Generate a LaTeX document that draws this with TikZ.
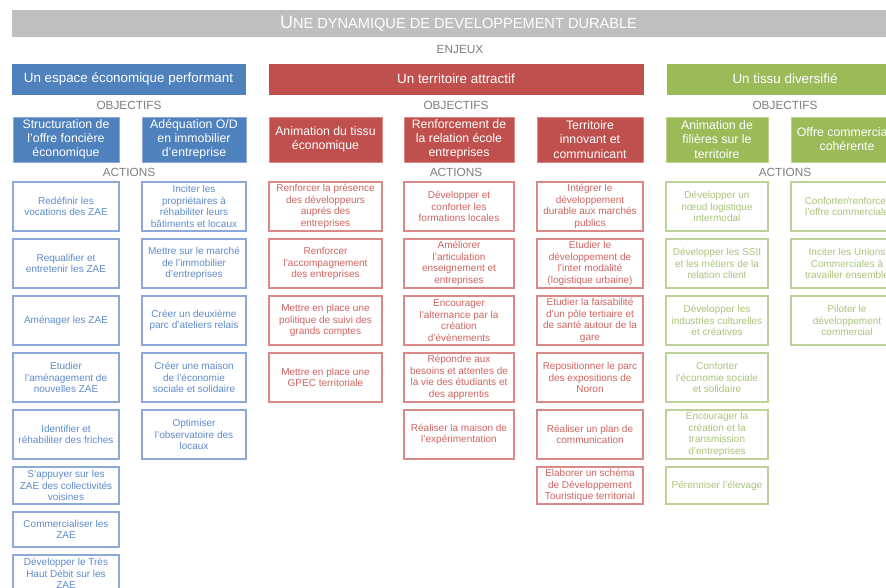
\documentclass[tikz,border=0pt]{standalone}
\usepackage{fontspec}
\setmainfont{Liberation Sans}
\definecolor{titlegray}{HTML}{BFBFBF}
\definecolor{labelgray}{HTML}{7F7F7F}
\definecolor{bluefill}{HTML}{4F81BD}
\definecolor{redfill}{HTML}{C0504D}
\definecolor{greenfill}{HTML}{9BBB59}
\definecolor{blueline}{HTML}{8EA9D8}
\definecolor{redline}{HTML}{D98A88}
\definecolor{greenline}{HTML}{BDD29A}
\definecolor{bluetext}{HTML}{5F8BCB}
\definecolor{redtext}{HTML}{CF6461}
\definecolor{greentext}{HTML}{A9C47A}
\begin{document}
\begin{tikzpicture}[x=1pt,y=-1pt,
  titlebar/.style={fill=titlegray, minimum width=893pt, minimum height=27pt, inner sep=0pt, text=white},
  lbl/.style={text=labelgray, inner sep=0pt, font=\fontsize{11.8}{12}\selectfont},
  enjeubox/.style 2 args={fill=#1fill, draw=#1fill, text=white, minimum width=#2, minimum height=30pt, inner sep=0pt, font=\fontsize{13.4}{14}\selectfont},
  objbox/.style 2 args={fill=#1fill, draw=#1line, line width=0.8pt, text=white, align=center, minimum width=#2, minimum height=45pt, inner sep=0pt, font=\fontsize{12.3}{14.2}\selectfont},
  actbox/.style 2 args={fill=white, draw=#1line, line width=1.3pt, text=#1text, align=center, minimum width=#2, minimum height=49pt, inner sep=0pt, font=\fontsize{10}{11.5}\selectfont},
  short/.style={minimum height=37pt}]
\useasboundingbox (0,0) rectangle (886,588);
\clip (0,0) rectangle (886,588);
\fill[white] (0,0) rectangle (886,588);
% title and enjeux
\node[titlebar] (title) at (458.5,23.5) {{\fontsize{18}{18}\selectfont U}\fontsize{14.6}{18}\selectfont NE DYNAMIQUE DE DEVELOPPEMENT DURABLE};
\node[lbl] (enjeux) at (460,50) {ENJEUX};
\node[enjeubox={blue}{233pt}] (eb) at (128.5,79) {Un espace économique performant};
\node[enjeubox={red}{374pt}] (er) at (456,79) {Un territoire attractif};
\node[enjeubox={green}{236pt}] (eg) at (785,79) {Un tissu diversifié};
\node[lbl] (ob) at (129,105) {OBJECTIFS};
\node[lbl] (or) at (456,105) {OBJECTIFS};
\node[lbl] (og) at (785,105) {OBJECTIFS};
% objectifs
\node[objbox={blue}{106pt}] (b1) at (66,139.5) {Structuration de\\l’offre foncière\\économique};
\node[objbox={blue}{104pt}] (b2) at (194,139.5) {Adéquation O/D\\en immobilier\\d’entreprise};
\node[objbox={red}{113pt}] (r1) at (325.5,139.5) {Animation du tissu\\économique};
\node[objbox={red}{110pt}] (r2) at (459,139.5) {Renforcement de\\la relation école\\entreprises};
\node[objbox={red}{106pt}] (r3) at (590,139.5) {Territoire\\innovant et\\communicant};
\node[objbox={green}{102pt}] (g1) at (717,139.5) {Animation de\\filières sur le\\territoire};
\node[objbox={green}{112pt}] (g2) at (847,139.5) {Offre commerciale\\cohérente};
\node[lbl] (ab) at (129,172) {ACTIONS};
\node[lbl] (ar) at (456,172) {ACTIONS};
\node[lbl] (ag) at (785,172) {ACTIONS};
% actions, blue
\node[actbox={blue}{106pt}] (b11) at (66,206.5) {Redéfinir les\\vocations des ZAE};
\node[actbox={blue}{106pt}] (b12) at (66,263.5) {Requalifier et\\entretenir les ZAE};
\node[actbox={blue}{106pt}] (b13) at (66,320.5) {Aménager les ZAE};
\node[actbox={blue}{106pt}] (b14) at (66,377.5) {Etudier\\l’aménagement de\\nouvelles ZAE};
\node[actbox={blue}{106pt}] (b15) at (66,434.5) {Identifier et\\réhabiliter des friches};
\node[actbox={blue}{106pt}, short] (b16) at (66,485.5) {S’appuyer sur les\\ZAE des collectivités\\voisines};
\node[actbox={blue}{106pt}, minimum height=35pt] (b17) at (66,529.5) {Commercialiser les\\ZAE};
\node[actbox={blue}{106pt}, short] (b18) at (66,573.5) {Développer le Très\\Haut Débit sur les\\ZAE};
\node[actbox={blue}{104pt}] (b21) at (194,206.5) {Inciter les\\propriétaires à\\réhabiliter leurs\\bâtiments et locaux};
\node[actbox={blue}{104pt}] (b22) at (194,263.5) {Mettre sur le marché\\de l’immobilier\\d’entreprises};
\node[actbox={blue}{104pt}] (b23) at (194,320.5) {Créer un deuxième\\parc d’ateliers relais};
\node[actbox={blue}{104pt}] (b24) at (194,377.5) {Créer une maison\\de l’économie\\sociale et solidaire};
\node[actbox={blue}{104pt}] (b25) at (194,434.5) {Optimiser\\l’observatoire des\\locaux};
% actions, red
\node[actbox={red}{113pt}] (r11) at (325.5,206.5) {Renforcer la présence\\des développeurs\\auprés des\\entreprises};
\node[actbox={red}{113pt}] (r12) at (325.5,263.5) {Renforcer\\l’accompagnement\\des entreprises};
\node[actbox={red}{113pt}] (r13) at (325.5,320.5) {Mettre en place une\\politique de suivi des\\grands comptes};
\node[actbox={red}{113pt}] (r14) at (325.5,377.5) {Mettre en place une\\GPEC territoriale};
\node[actbox={red}{110pt}] (r21) at (459,206.5) {Développer et\\conforter les\\formations locales};
\node[actbox={red}{110pt}] (r22) at (459,263.5) {Améliorer\\l’articulation\\enseignement et\\entreprises};
\node[actbox={red}{110pt}] (r23) at (459,320.5) {Encourager\\l’alternance par la\\création\\d’évènements};
\node[actbox={red}{110pt}] (r24) at (459,377.5) {Répondre aux\\besoins et attentes de\\la vie des étudiants et\\des apprentis};
\node[actbox={red}{110pt}] (r25) at (459,434.5) {Réaliser la maison de\\l’expérimentation};
\node[actbox={red}{106pt}] (r31) at (590,206.5) {Intégrer le\\développement\\durable aux marchés\\publics};
\node[actbox={red}{106pt}] (r32) at (590,263.5) {Etudier le\\développement de\\l’inter modalité\\(logistique urbaine)};
\node[actbox={red}{106pt}] (r33) at (590,320.5) {Etudier la faisabilité\\d’un pôle tertiaire et\\de santé autour de la\\gare};
\node[actbox={red}{106pt}] (r34) at (590,377.5) {Repositionner le parc\\des expositions de\\Noron};
\node[actbox={red}{106pt}] (r35) at (590,434.5) {Réaliser un plan de\\communication};
\node[actbox={red}{106pt}, short] (r36) at (590,485.5) {Elaborer un schéma\\de Développement\\Touristique territorial};
% actions, green
\node[actbox={green}{102pt}] (g11) at (717,206.5) {Développer un\\nœud logistique\\intermodal};
\node[actbox={green}{102pt}] (g12) at (717,263.5) {Développer les SSII\\et les métiers de la\\relation client};
\node[actbox={green}{102pt}] (g13) at (717,320.5) {Développer les\\industries culturelles\\et créatives};
\node[actbox={green}{102pt}] (g14) at (717,377.5) {Conforter\\l’économie sociale\\et solidaire};
\node[actbox={green}{102pt}] (g15) at (717,434.5) {Encourager la\\création et la\\transmission\\d’entreprises};
\node[actbox={green}{102pt}, short] (g16) at (717,485.5) {Pérenniser l’élevage};
\node[actbox={green}{112pt}] (g21) at (847,206.5) {Conforter/renforcer\\l’offre commerciale};
\node[actbox={green}{112pt}] (g22) at (847,263.5) {Inciter les Unions\\Commerciales à\\travailler ensemble};
\node[actbox={green}{112pt}] (g23) at (847,320.5) {Piloter le\\développement\\commercial};
\end{tikzpicture}
\end{document}
